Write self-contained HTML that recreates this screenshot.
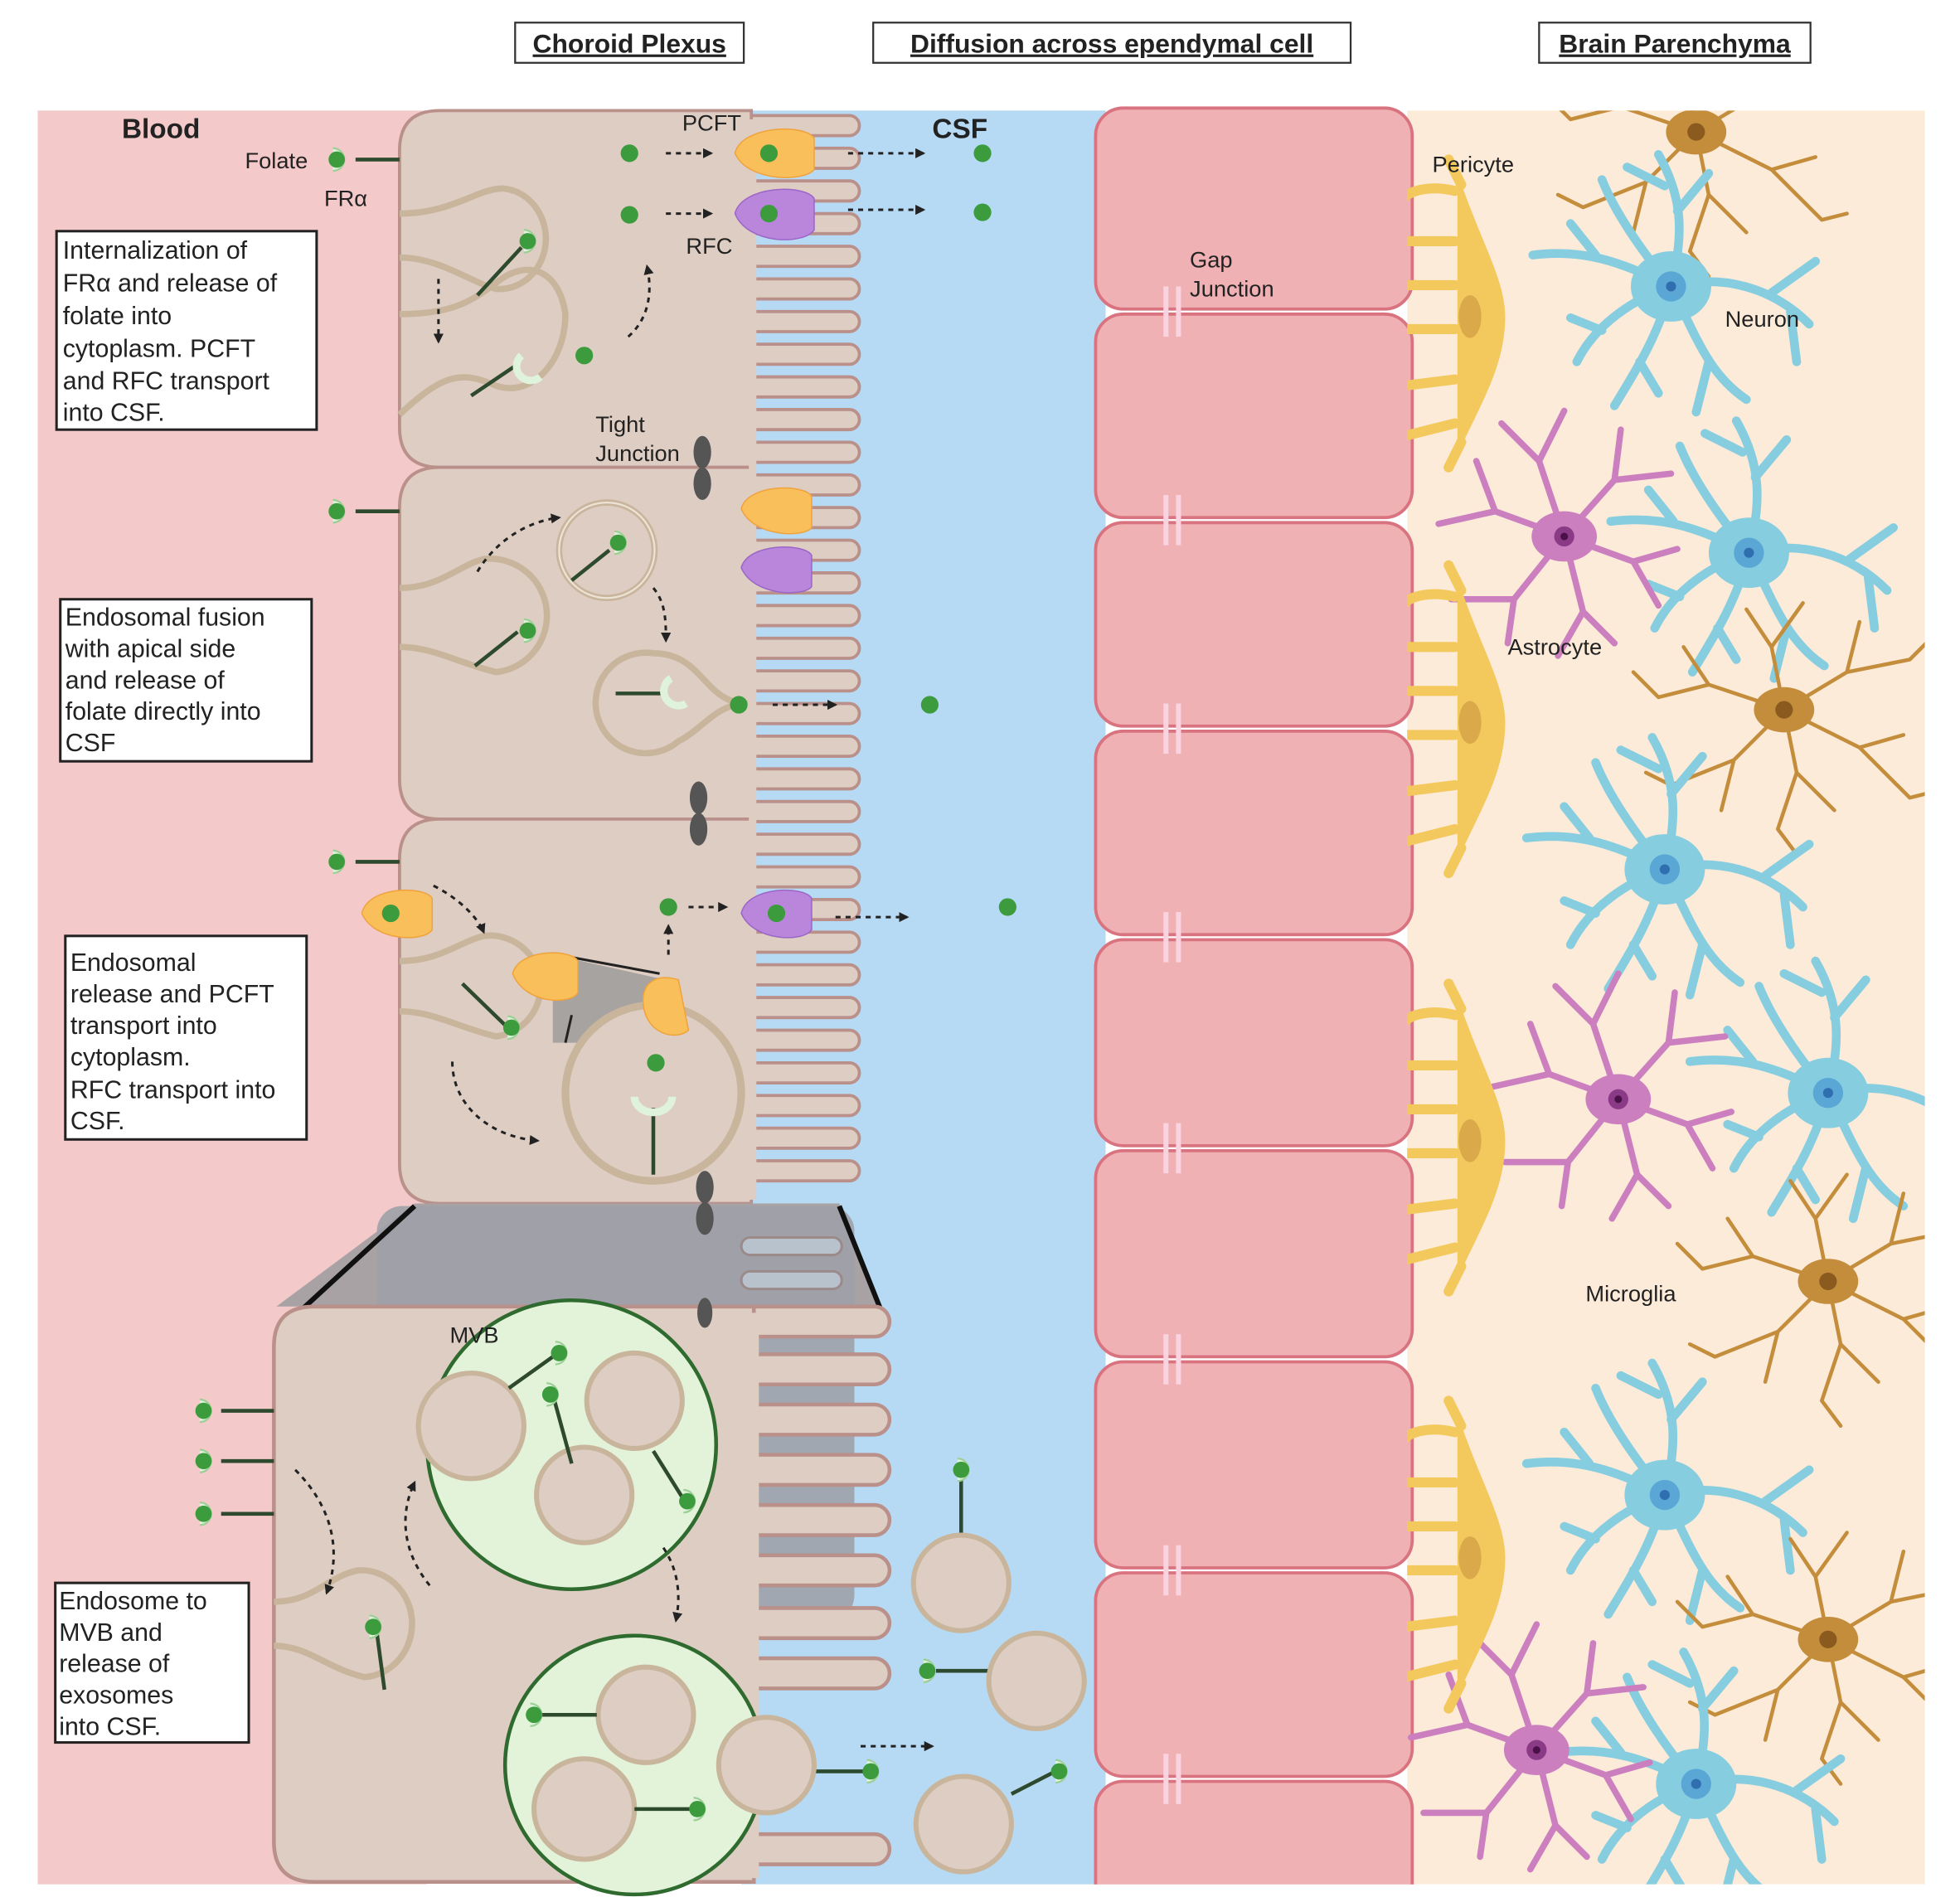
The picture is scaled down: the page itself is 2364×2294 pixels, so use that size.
<!DOCTYPE html>
<html><head><meta charset="utf-8"><style>
html,body{margin:0;padding:0;background:#fff;}
svg{display:block;}
text{font-family:"Liberation Sans",sans-serif;fill:#222;}
</style></head><body>
<svg width="2364" height="2294" viewBox="0 0 1560 1514" preserveAspectRatio="none" xmlns="http://www.w3.org/2000/svg">
<defs>
<clipPath id="pc"><rect x="1120" y="88" width="412" height="1412"/></clipPath>
<marker id="ah" viewBox="0 0 10 10" refX="8" refY="5" markerWidth="4" markerHeight="4" orient="auto"><path d="M0,0L10,5L0,10z" fill="#222"/></marker>
<g id="neuron">
 <g stroke="#86cde0" stroke-width="7" fill="none" stroke-linecap="round">
  <path d="M0,0 C-40,-20 -70,-30 -110,-25 M-60,-25 L-80,-50"/>
  <path d="M0,0 C-30,10 -60,30 -75,60 M-55,35 L-80,25"/>
  <path d="M0,0 C-10,40 -30,70 -45,95 M-25,60 L-10,85"/>
  <path d="M0,0 C20,40 30,70 60,90 M30,60 L20,100"/>
  <path d="M0,0 C40,-10 80,0 110,30 M80,5 L115,-20 M95,20 L100,60"/>
  <path d="M0,0 C10,-40 10,-70 -10,-105 M5,-60 L30,-90 M-5,-80 L-35,-95"/>
  <path d="M0,0 C-25,-30 -45,-60 -55,-85"/>
 </g>
 <ellipse cx="0" cy="0" rx="32" ry="28" fill="#86cde0"/>
 <circle r="12" fill="#5aa7d6"/><circle r="4" fill="#2f6fb0"/>
</g>
<g id="glia">
 <g stroke="#c48d3b" stroke-width="3" fill="none" stroke-linecap="round">
  <path d="M0,0 L-60,-20 L-100,-10 M-60,-20 L-80,-50 M-100,-10 L-120,-30"/>
  <path d="M0,0 L-40,40 L-90,60 M-40,40 L-50,80 M-90,60 L-110,50"/>
  <path d="M0,0 L10,50 L-5,95 M10,50 L40,80 M-5,95 L10,115"/>
  <path d="M0,0 L60,30 L100,70 M60,30 L95,20 M100,70 L120,65"/>
  <path d="M0,0 L50,-30 L100,-40 M50,-30 L60,-70 M100,-40 L120,-60"/>
  <path d="M0,0 L-10,-50 L-30,-80 M-10,-50 L15,-85"/>
 </g>
 <ellipse rx="24" ry="18" fill="#c48d3b"/><circle r="7" fill="#8a5a1f"/>
</g>
<g id="astro">
 <g stroke="#cc7fbf" stroke-width="5" fill="none" stroke-linecap="round">
  <path d="M0,0 L-55,-20 L-100,-10 M-55,-20 L-70,-60"/>
  <path d="M0,0 L-40,50 L-90,50 M-40,50 L-45,85"/>
  <path d="M0,0 L15,60 L40,85 M15,60 L-5,95"/>
  <path d="M0,0 L55,20 L90,10 M55,20 L75,55"/>
  <path d="M0,0 L40,-45 L85,-50 M40,-45 L45,-85"/>
  <path d="M0,0 L-20,-60 L-50,-90 M-20,-60 L0,-100"/>
 </g>
 <ellipse rx="26" ry="20" fill="#cc7fbf"/><circle r="8" fill="#8b3a86"/><circle r="3" fill="#4a1048"/>
</g>
<g id="peri">
 <g stroke="#f3c95e" stroke-width="8" fill="none" stroke-linecap="round">
  <path d="M40,-100 C20,-105 5,-100 0,-95"/><path d="M40,-60 L0,-60"/><path d="M40,-25 L0,-25"/><path d="M40,10 L0,10"/><path d="M40,50 L0,55"/><path d="M40,85 L0,95"/>
  <path d="M45,-105 L35,-125"/><path d="M45,100 L35,120"/>
 </g>
 <path d="M42,-115 C60,-60 80,-30 80,0 C80,40 60,70 42,110 Z" fill="#f3c95e"/>
 <ellipse cx="52" cy="0" rx="9" ry="17" fill="#d9a94a"/>
</g>
<g id="fol"><path d="M-3,-9 A9,9 0 1,1 -3,9" fill="#dff2dc" stroke="#9ccf95" stroke-width="1.5"/><circle r="6.5" fill="#3c9b3c"/></g>
</defs>

<rect x="30" y="88" width="310" height="1412" fill="#f3c9c9"/>
<rect x="590" y="88" width="290" height="1412" fill="#b7daf4"/>
<rect x="1120" y="88" width="412" height="1412" fill="#fcebd9"/>

<rect x="410" y="18" width="182" height="32" fill="#fff" stroke="#333" stroke-width="1.5"/>
<text x="501" y="42" font-size="21" font-weight="bold" text-anchor="middle" text-decoration="underline">Choroid Plexus</text>
<rect x="695" y="18" width="380" height="32" fill="#fff" stroke="#333" stroke-width="1.5"/>
<text x="885" y="42" font-size="21" font-weight="bold" text-anchor="middle" text-decoration="underline">Diffusion across ependymal cell</text>
<rect x="1225" y="18" width="216" height="32" fill="#fff" stroke="#333" stroke-width="1.5"/>
<text x="1333" y="42" font-size="21" font-weight="bold" text-anchor="middle" text-decoration="underline">Brain Parenchyma</text>

<g fill="#decdc3" stroke="#b9908a" stroke-width="2.5">
 <rect x="580" y="92" width="104" height="16" rx="8"/><rect x="580" y="118" width="104" height="16" rx="8"/><rect x="580" y="144" width="104" height="16" rx="8"/><rect x="580" y="170" width="104" height="16" rx="8"/><rect x="580" y="196" width="104" height="16" rx="8"/><rect x="580" y="222" width="104" height="16" rx="8"/><rect x="580" y="248" width="104" height="16" rx="8"/><rect x="580" y="274" width="104" height="16" rx="8"/><rect x="580" y="300" width="104" height="16" rx="8"/><rect x="580" y="326" width="104" height="16" rx="8"/><rect x="580" y="352" width="104" height="16" rx="8"/><rect x="580" y="378" width="104" height="16" rx="8"/><rect x="580" y="404" width="104" height="16" rx="8"/><rect x="580" y="430" width="104" height="16" rx="8"/><rect x="580" y="456" width="104" height="16" rx="8"/><rect x="580" y="482" width="104" height="16" rx="8"/><rect x="580" y="508" width="104" height="16" rx="8"/><rect x="580" y="534" width="104" height="16" rx="8"/><rect x="580" y="560" width="104" height="16" rx="8"/><rect x="580" y="586" width="104" height="16" rx="8"/><rect x="580" y="612" width="104" height="16" rx="8"/><rect x="580" y="638" width="104" height="16" rx="8"/><rect x="580" y="664" width="104" height="16" rx="8"/><rect x="580" y="690" width="104" height="16" rx="8"/><rect x="580" y="716" width="104" height="16" rx="8"/><rect x="580" y="742" width="104" height="16" rx="8"/><rect x="580" y="768" width="104" height="16" rx="8"/><rect x="580" y="794" width="104" height="16" rx="8"/><rect x="580" y="820" width="104" height="16" rx="8"/><rect x="580" y="846" width="104" height="16" rx="8"/><rect x="580" y="872" width="104" height="16" rx="8"/><rect x="580" y="898" width="104" height="16" rx="8"/><rect x="580" y="924" width="104" height="16" rx="8"/>
</g>
<g fill="#decdc3" stroke="#b9908a" stroke-width="2.5">
 <path d="M598,88 L350,88 Q318,88 318,120 L318,340 Q318,372 350,372 L598,372 Z"/>
 <path d="M598,372 L350,372 Q318,372 318,404 L318,620 Q318,652 350,652 L598,652 Z"/>
 <path d="M598,652 L350,652 Q318,652 318,684 L318,926 Q318,958 350,958 L598,958 Z"/>
</g>
<rect x="596" y="95" width="6" height="860" fill="#decdc3"/>

<path d="M330,958 L668,958 L700,1040 L220,1040 Z" fill="#a8a2a4"/>
<rect x="300" y="960" width="380" height="330" rx="20" fill="#9ea1a8" opacity="0.9"/>
<line x1="330" y1="960" x2="232" y2="1050" stroke="#111" stroke-width="4"/>
<line x1="668" y1="960" x2="702" y2="1045" stroke="#111" stroke-width="4"/>
<g fill="#b7c2cc" stroke="#9c8a8a" stroke-width="2"><rect x="590" y="985" width="80" height="14" rx="7"/><rect x="590" y="1012" width="80" height="14" rx="7"/></g>

<g fill="#decdc3" stroke="#b9908a" stroke-width="3">
 <rect x="590" y="1040" width="118" height="24" rx="12"/><rect x="590" y="1078" width="118" height="24" rx="12"/><rect x="590" y="1118" width="118" height="24" rx="12"/><rect x="590" y="1158" width="118" height="24" rx="12"/><rect x="590" y="1198" width="118" height="24" rx="12"/><rect x="590" y="1238" width="118" height="24" rx="12"/><rect x="590" y="1280" width="118" height="24" rx="12"/><rect x="590" y="1320" width="118" height="24" rx="12"/><rect x="590" y="1460" width="118" height="24" rx="12"/>
</g>
<path d="M600,1040 L250,1040 Q218,1040 218,1072 L218,1466 Q218,1498 250,1498 L600,1498 Z" fill="#decdc3" stroke="#b9908a" stroke-width="3"/>
<rect x="596" y="1045" width="8" height="450" fill="#decdc3"/>

<g fill="#efb1b4" stroke="#d9737f" stroke-width="2.5">
 <rect x="872" y="86" width="252" height="160" rx="22"/><rect x="872" y="250" width="252" height="162" rx="22"/><rect x="872" y="416" width="252" height="162" rx="22"/><rect x="872" y="582" width="252" height="162" rx="22"/><rect x="872" y="748" width="252" height="164" rx="22"/><rect x="872" y="916" width="252" height="164" rx="22"/><rect x="872" y="1084" width="252" height="164" rx="22"/><rect x="872" y="1252" width="252" height="162" rx="22"/><rect x="872" y="1418" width="252" height="120" rx="22"/>
</g>
<g fill="#fad3e0"><rect x="926" y="228" width="4" height="40"/><rect x="936" y="228" width="4" height="40"/><rect x="926" y="394" width="4" height="40"/><rect x="936" y="394" width="4" height="40"/><rect x="926" y="560" width="4" height="40"/><rect x="936" y="560" width="4" height="40"/><rect x="926" y="726" width="4" height="40"/><rect x="936" y="726" width="4" height="40"/><rect x="926" y="894" width="4" height="40"/><rect x="936" y="894" width="4" height="40"/><rect x="926" y="1062" width="4" height="40"/><rect x="936" y="1062" width="4" height="40"/><rect x="926" y="1230" width="4" height="40"/><rect x="936" y="1230" width="4" height="40"/><rect x="926" y="1396" width="4" height="40"/><rect x="936" y="1396" width="4" height="40"/></g>

<g clip-path="url(#pc)">
<use href="#glia" x="1350" y="105"/>
<use href="#neuron" x="1330" y="228"/>
<use href="#neuron" x="1392" y="440"/>
<use href="#glia" x="1420" y="565"/>
<use href="#neuron" x="1325" y="692"/>
<use href="#neuron" x="1455" y="870"/>
<use href="#glia" x="1455" y="1020"/>
<use href="#neuron" x="1325" y="1190"/>
<use href="#glia" x="1455" y="1305"/>
<use href="#neuron" x="1350" y="1420"/>
<use href="#astro" x="1245" y="427"/>
<use href="#astro" x="1288" y="875"/>
<use href="#astro" x="1223" y="1393"/>
<use href="#peri" x="1118" y="252"/>
<use href="#peri" x="1118" y="575"/>
<use href="#peri" x="1118" y="908"/>
<use href="#peri" x="1118" y="1240"/>
</g>
<rect x="0" y="1500" width="1560" height="20" fill="#fff"/>

<g fill="none" stroke="#c8b59c" stroke-width="5">
 <path d="M318,170 C360,170 380,150 400,150 A35,38 0 1,1 395,230 C375,225 350,205 318,205"/>
 <path d="M318,250 C360,250 375,240 395,225 C420,205 445,215 450,250 C450,290 420,320 390,305 C365,295 350,300 318,330"/>
 <path d="M318,468 C350,468 365,450 385,445 A35,35 0 1,1 395,535 C365,528 345,515 318,515"/>
 <circle cx="483" cy="438" r="38"/>
 <path d="M595,560 C560,560 560,520 520,520 A40,40 0 1,0 540,590 C560,580 570,560 595,560"/>
 <path d="M318,765 C350,765 365,750 385,745 A35,35 0 1,1 395,825 C365,818 345,805 318,805"/>
 <path d="M218,1275 C250,1275 260,1255 285,1250 A38,40 0 1,1 290,1335 C260,1328 245,1310 218,1310"/>
</g>
<circle cx="483" cy="438" r="38" fill="none" stroke="#ece3d6" stroke-width="1.5"/>
<path d="M440,760 L530,780 L520,830 L440,830 Z" fill="#999" opacity="0.8"/>
<line x1="455" y1="762" x2="525" y2="775" stroke="#222" stroke-width="2"/>
<line x1="455" y1="808" x2="450" y2="830" stroke="#222" stroke-width="2"/>
<circle cx="520" cy="870" r="70" fill="#decdc3" stroke="#c8b59c" stroke-width="6"/>

<g stroke="#2e4a2e" stroke-width="3">
 <line x1="283" y1="127" x2="318" y2="127"/><line x1="283" y1="407" x2="318" y2="407"/><line x1="283" y1="686" x2="318" y2="686"/>
 <line x1="380" y1="235" x2="415" y2="197"/><line x1="375" y1="315" x2="412" y2="290"/>
 <line x1="455" y1="462" x2="485" y2="438"/><line x1="378" y1="530" x2="412" y2="503"/>
 <line x1="490" y1="552" x2="528" y2="552"/>
 <line x1="368" y1="783" x2="402" y2="816"/><line x1="520" y1="935" x2="520" y2="882"/>
 <line x1="176" y1="1123" x2="218" y2="1123"/><line x1="176" y1="1163" x2="218" y2="1163"/><line x1="176" y1="1205" x2="218" y2="1205"/>
 <line x1="300" y1="1300" x2="306" y2="1345"/>
 <line x1="765" y1="1175" x2="765" y2="1225"/><line x1="745" y1="1330" x2="788" y2="1330"/><line x1="805" y1="1428" x2="840" y2="1410"/>
 <line x1="635" y1="1410" x2="690" y2="1410"/>
</g>
<use href="#fol" x="268" y="127"/><use href="#fol" x="268" y="407"/><use href="#fol" x="268" y="686"/>
<use href="#fol" x="420" y="192"/><use href="#fol" x="492" y="432"/><use href="#fol" x="420" y="502"/><use href="#fol" x="407" y="818"/>
<use href="#fol" x="162" y="1123"/><use href="#fol" x="162" y="1163"/><use href="#fol" x="162" y="1205"/>
<use href="#fol" x="297" y="1295"/><use href="#fol" x="765" y="1170"/><use href="#fol" x="738" y="1330"/><use href="#fol" x="843" y="1410"/><use href="#fol" x="693" y="1410"/>
<g fill="none" stroke="#dff2dc" stroke-width="6">
 <path d="M415,283 A10,10 0 1,0 430,300"/>
 <path d="M534,540 A10,10 0 1,0 546,560"/>
 <path d="M505,873 A12,10 0 0,0 535,873"/>
</g>
<g fill="#3c9b3c"><circle cx="501" cy="122" r="7"/><circle cx="501" cy="171" r="7"/><circle cx="465" cy="283" r="7"/><circle cx="782" cy="122" r="7"/><circle cx="782" cy="169" r="7"/><circle cx="588" cy="561" r="7"/><circle cx="740" cy="561" r="7"/><circle cx="532" cy="722" r="7"/><circle cx="802" cy="722" r="7"/><circle cx="522" cy="846" r="7"/></g>

<g>
 <path d="M585,122 C590,100 640,98 648,110 L648,135 C640,145 595,145 585,122Z" fill="#f9bf5a" stroke="#f0a23c"/>
 <path d="M585,170 C590,148 640,146 648,158 L648,183 C640,195 595,195 585,170Z" fill="#b986dc" stroke="#9b66c8"/>
 <path d="M590,405 C595,385 640,385 646,395 L646,420 C640,428 600,428 590,405Z" fill="#f9bf5a" stroke="#f0a23c"/>
 <path d="M590,452 C595,432 640,432 646,442 L646,467 C640,475 600,475 590,452Z" fill="#b986dc" stroke="#9b66c8"/>
 <path d="M590,727 C595,705 640,705 646,715 L646,740 C640,750 600,750 590,727Z" fill="#b986dc" stroke="#9b66c8"/>
 <path d="M288,727 C293,705 338,705 344,715 L344,740 C338,750 298,750 288,727Z" fill="#f9bf5a" stroke="#f0a23c"/>
 <path d="M408,775 C413,755 455,755 460,765 L460,790 C455,800 418,800 408,775Z" fill="#f9bf5a" stroke="#f0a23c"/>
 <path d="M512,800 C510,780 525,775 540,780 L548,820 C540,828 515,825 512,800Z" fill="#f9bf5a" stroke="#f0a23c"/>
</g>
<g fill="#3c9b3c"><circle cx="612" cy="122" r="7"/><circle cx="612" cy="170" r="7"/><circle cx="618" cy="727" r="7"/><circle cx="311" cy="727" r="7"/></g>
<g fill="#555"><ellipse cx="559" cy="360" rx="7" ry="13"/><ellipse cx="559" cy="385" rx="7" ry="13"/><ellipse cx="556" cy="635" rx="7" ry="13"/><ellipse cx="556" cy="660" rx="7" ry="13"/><ellipse cx="561" cy="945" rx="7" ry="13"/><ellipse cx="561" cy="970" rx="7" ry="13"/><ellipse cx="561" cy="1045" rx="6" ry="12"/></g>

<circle cx="455" cy="1150" r="115" fill="#e2f3d9" stroke="#2f6a2f" stroke-width="3"/>
<g fill="#decdc3" stroke="#c8b59c" stroke-width="4"><circle cx="375" cy="1135" r="42"/><circle cx="505" cy="1115" r="38"/><circle cx="465" cy="1190" r="38"/></g>
<circle cx="505" cy="1405" r="103" fill="#e2f3d9" stroke="#2f6a2f" stroke-width="3"/>
<g fill="#decdc3" stroke="#c8b59c" stroke-width="4"><circle cx="514" cy="1365" r="38"/><circle cx="465" cy="1440" r="40"/><circle cx="610" cy="1405" r="38"/></g>
<g stroke="#2e4a2e" stroke-width="3"><line x1="405" y1="1105" x2="440" y2="1080"/><line x1="440" y1="1110" x2="455" y2="1165"/><line x1="520" y1="1155" x2="545" y2="1195"/><line x1="430" y1="1365" x2="475" y2="1365"/><line x1="505" y1="1440" x2="552" y2="1440"/></g>
<use href="#fol" x="445" y="1077"/><use href="#fol" x="438" y="1110"/><use href="#fol" x="547" y="1195"/><use href="#fol" x="425" y="1365"/><use href="#fol" x="555" y="1440"/>
<g fill="#decdc3" stroke="#c8b59c" stroke-width="4"><circle cx="765" cy="1260" r="38"/><circle cx="825" cy="1338" r="38"/><circle cx="767" cy="1452" r="38"/></g>

<g stroke="#222" stroke-width="2" stroke-dasharray="4,4" fill="none" marker-end="url(#ah)">
 <line x1="530" y1="122" x2="566" y2="122"/><line x1="530" y1="170" x2="566" y2="170"/>
 <line x1="675" y1="122" x2="735" y2="122"/><line x1="675" y1="167" x2="735" y2="167"/>
 <line x1="349" y1="222" x2="349" y2="272"/>
 <path d="M500,268 C515,255 520,235 515,212"/>
 <path d="M380,455 C395,430 420,415 445,412"/>
 <path d="M520,468 C530,480 530,495 530,510"/>
 <line x1="615" y1="561" x2="665" y2="561"/>
 <path d="M345,705 C365,715 380,730 385,742"/>
 <line x1="532" y1="760" x2="532" y2="737"/><line x1="548" y1="722" x2="578" y2="722"/>
 <line x1="665" y1="730" x2="722" y2="730"/>
 <path d="M360,845 C360,880 390,905 428,908"/>
 <path d="M235,1170 C265,1200 272,1235 260,1268"/>
 <path d="M342,1262 C320,1235 318,1205 330,1180"/>
 <path d="M528,1232 C540,1250 542,1270 538,1290"/>
 <line x1="685" y1="1390" x2="742" y2="1390"/>
</g>

<g fill="#fff" stroke="#222" stroke-width="2">
 <rect x="45" y="184" width="207" height="158"/><rect x="48" y="477" width="200" height="129"/><rect x="52" y="745" width="192" height="162"/><rect x="44" y="1260" width="154" height="127"/>
</g>
<g font-size="20">
 <text x="50" y="206">Internalization of</text><text x="50" y="232">FRα and release of</text><text x="50" y="258">folate into</text><text x="50" y="284">cytoplasm. PCFT</text><text x="50" y="310">and RFC transport</text><text x="50" y="335">into CSF.</text>
 <text x="52" y="498">Endosomal fusion</text><text x="52" y="523">with apical side</text><text x="52" y="548">and release of</text><text x="52" y="573">folate directly into</text><text x="52" y="598">CSF</text>
 <text x="56" y="773">Endosomal</text><text x="56" y="798">release and PCFT</text><text x="56" y="823">transport into</text><text x="56" y="848">cytoplasm.</text><text x="56" y="874">RFC transport into</text><text x="56" y="899">CSF.</text>
 <text x="47" y="1281">Endosome to</text><text x="47" y="1306">MVB and</text><text x="47" y="1331">release of</text><text x="47" y="1356">exosomes</text><text x="47" y="1381">into CSF.</text>
</g>
<g font-size="18">
 <text x="97" y="110" font-size="22" font-weight="bold">Blood</text>
 <text x="195" y="134">Folate</text><text x="258" y="164">FRα</text>
 <text x="543" y="104">PCFT</text><text x="546" y="202">RFC</text>
 <text x="742" y="110" font-size="22" font-weight="bold">CSF</text>
 <text x="474" y="344">Tight</text><text x="474" y="367">Junction</text>
 <text x="947" y="213">Gap</text><text x="947" y="236">Junction</text>
 <text x="1140" y="137">Pericyte</text><text x="1373" y="260">Neuron</text><text x="1200" y="521">Astrocyte</text><text x="1262" y="1036">Microglia</text>
 <text x="358" y="1069">MVB</text>
</g>
</svg>
</body></html>
